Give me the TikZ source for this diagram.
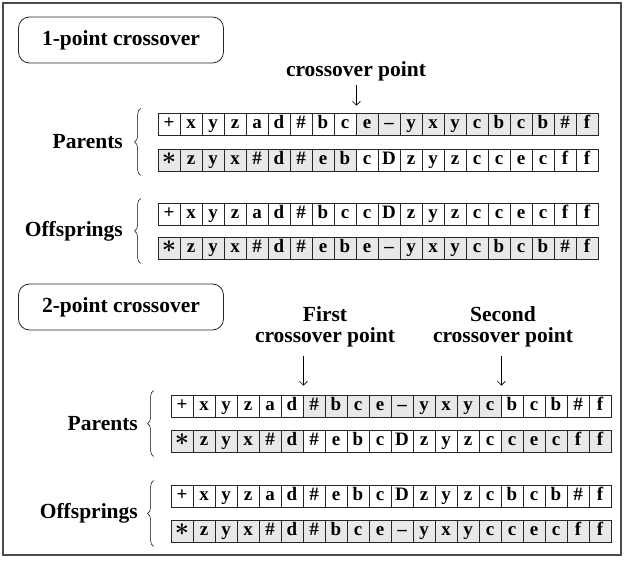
\documentclass[tikz,border=0pt]{standalone}
\usepackage{fontspec}
\setmainfont{Liberation Serif}
\usetikzlibrary{arrows.meta,decorations.pathreplacing}
\definecolor{cellgray}{gray}{0.91}
\newcommand{\genefont}{\bfseries\fontsize{19}{19}\selectfont}
\newcommand{\titlefont}{\bfseries\fontsize{21.5}{21}\selectfont}
\newcommand{\genestar}{{\fontsize{25}{25}\selectfont\boldmath$\ast$}}
% one chromosome: name, left x, centre y, list of symbol/colour
\newcommand{\chromo}[4]{%
  \foreach \s/\c [count=\i] in {#4}
    \node[gene, g\c] (#1-\i) at ({#2+(\i-0.5)*22}, #3) {\s};
}

\begin{document}
\begin{tikzpicture}[x=1pt, y=-1pt,
    gene/.style={draw=black!85, line width=0.8pt, minimum width=22pt, minimum height=22pt,
      inner sep=0pt, text height=12.5pt, text depth=4pt, font=\genefont},
    gw/.style={fill=white}, gg/.style={fill=cellgray},
    title/.style={draw=black!85, line width=0.8pt, rounded corners=11pt,
      minimum width=205pt, minimum height=46pt, font=\titlefont},
    lbl/.style={font=\titlefont, align=center, inner sep=1pt},
    brace/.style={decorate, decoration={brace, amplitude=6pt}, line width=0.5pt},
    pointer/.style={-{Straight Barb[length=4pt,width=8pt]}, line width=0.6pt}]
  \useasboundingbox (0,0) rectangle (624,561);
  \draw[line width=1.2pt, black!70] (3,3) rectangle (621,555);

  % 1-point crossover
  \node[title] (one) at (121,40) {1-point crossover};
  \node[lbl] (cut) at (356,71) {crossover point};
  \chromo{pa}{158}{124}{+/w, x/w, y/w, z/w, a/w, d/w, \#/w, b/w, c/w, e/g,
    --/g, y/g, x/g, y/g, c/g, b/g, c/g, b/g, \#/g, f/g}
  \chromo{pb}{158}{160}{\genestar/g, z/g, y/g, x/g, \#/g, d/g, \#/g, e/g, b/g, c/w,
    D/w, z/w, y/w, z/w, c/w, c/w, e/w, c/w, f/w, f/w}
  \chromo{oa}{158}{214}{+/w, x/w, y/w, z/w, a/w, d/w, \#/w, b/w, c/w, c/w,
    D/w, z/w, y/w, z/w, c/w, c/w, e/w, c/w, f/w, f/w}
  \chromo{ob}{158}{248}{\genestar/g, z/g, y/g, x/g, \#/g, d/g, \#/g, e/g, b/g, e/g,
    --/g, y/g, x/g, y/g, c/g, b/g, c/g, b/g, \#/g, f/g}
  \draw[pointer] ([yshift=28pt]pa-9.north east) -- ([yshift=7pt]pa-9.north east);
  \draw[brace] ([shift={(-17pt,-4pt)}]pb-1.south west) -- ([shift={(-17pt,4pt)}]pa-1.north west);
  \draw[brace] ([shift={(-17pt,-4pt)}]ob-1.south west) -- ([shift={(-17pt,4pt)}]oa-1.north west);
  \node[lbl, anchor=east] (par1) at (124,142) {Parents};
  \node[lbl, anchor=east] (off1) at (124,231) {Offsprings};

  % 2-point crossover
  \node[title] (two) at (121,307) {2-point crossover};
  \node[lbl] (cuta) at (325,327) {First\\crossover point};
  \node[lbl] (cutb) at (503,327) {Second\\crossover point};
  \chromo{qa}{171}{406}{+/w, x/w, y/w, z/w, a/w, d/w, \#/g, b/g, c/g, e/g,
    --/g, y/g, x/g, y/g, c/g, b/w, c/w, b/w, \#/w, f/w}
  \chromo{qb}{171}{441}{\genestar/g, z/g, y/g, x/g, \#/g, d/g, \#/w, e/w, b/w, c/w,
    D/w, z/w, y/w, z/w, c/w, c/g, e/g, c/g, f/g, f/g}
  \chromo{ra}{171}{496}{+/w, x/w, y/w, z/w, a/w, d/w, \#/w, e/w, b/w, c/w,
    D/w, z/w, y/w, z/w, c/w, b/w, c/w, b/w, \#/w, f/w}
  \chromo{rb}{171}{531}{\genestar/g, z/g, y/g, x/g, \#/g, d/g, \#/g, b/g, c/g, e/g,
    --/g, y/g, x/g, y/g, c/g, c/g, e/g, c/g, f/g, f/g}
  \draw[pointer] ([yshift=39pt]qa-6.north east) -- ([yshift=9pt]qa-6.north east);
  \draw[pointer] ([yshift=39pt]qa-15.north east) -- ([yshift=9pt]qa-15.north east);
  \draw[brace] ([shift={(-17pt,-4pt)}]qb-1.south west) -- ([shift={(-17pt,4pt)}]qa-1.north west);
  \draw[brace] ([shift={(-17pt,-4pt)}]rb-1.south west) -- ([shift={(-17pt,4pt)}]ra-1.north west);
  \node[lbl, anchor=east] (par2) at (139,424) {Parents};
  \node[lbl, anchor=east] (off2) at (139,513) {Offsprings};
\end{tikzpicture}
\end{document}
